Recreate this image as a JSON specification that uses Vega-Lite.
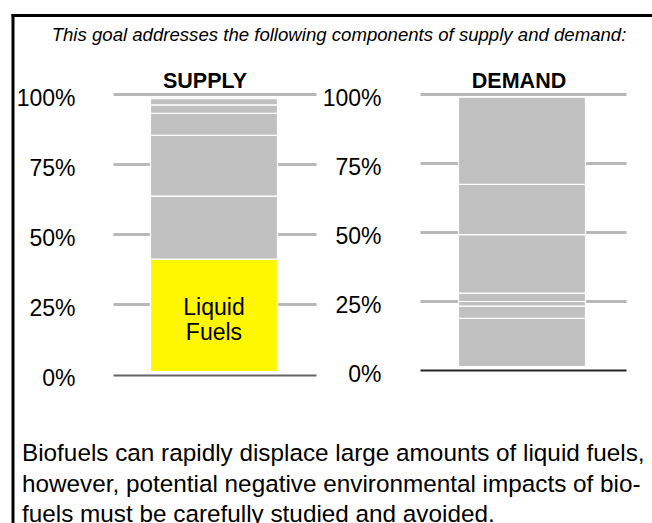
{
  "$schema": "https://vega.github.io/schema/vega-lite/v6.json",
  "autosize": {"type": "none"},
  "width": 639.5,
  "height": 508,
  "padding": {"left": 12.5, "top": 15, "right": 0, "bottom": 0},
  "background": "white",
  "config": {
    "font": "Liberation Sans",
    "view": {"stroke": null}
  },
  "title": {
    "text": [
      "Biofuels can rapidly displace large amounts of liquid fuels,",
      "however, potential negative environmental impacts of bio-",
      "fuels must be carefully studied and avoided."
    ],
    "orient": "bottom",
    "anchor": "start",
    "frame": "group",
    "baseline": "alphabetic",
    "offset": -62,
    "dx": 9.5,
    "fontSize": 24.3,
    "fontWeight": "normal",
    "lineHeight": 30.5,
    "color": "black"
  },
  "data": {
    "values": [
      {"panel": "SUPPLY", "component": "Liquid Fuels", "start": 1.0, "end": 41.1},
      {"panel": "SUPPLY", "component": "Other", "start": 41.1, "end": 63.6},
      {"panel": "SUPPLY", "component": "Other", "start": 63.6, "end": 85.3},
      {"panel": "SUPPLY", "component": "Other", "start": 85.3, "end": 93.1},
      {"panel": "SUPPLY", "component": "Other", "start": 93.1, "end": 96.1},
      {"panel": "SUPPLY", "component": "Other", "start": 96.1, "end": 98.3},
      {"panel": "DEMAND", "component": "Other", "start": 1.3, "end": 18.8},
      {"panel": "DEMAND", "component": "Other", "start": 18.8, "end": 23.2},
      {"panel": "DEMAND", "component": "Other", "start": 23.2, "end": 24.9},
      {"panel": "DEMAND", "component": "Other", "start": 24.9, "end": 27.9},
      {"panel": "DEMAND", "component": "Other", "start": 27.9, "end": 49.1},
      {"panel": "DEMAND", "component": "Other", "start": 49.1, "end": 67.3},
      {"panel": "DEMAND", "component": "Other", "start": 67.3, "end": 98.9}
    ]
  },
  "layer": [
    {
      "transform": [{"filter": "datum.panel === 'SUPPLY'"}],
      "mark": {"type": "bar", "stroke": "white", "strokeWidth": 1.2},
      "encoding": {
        "x": {
          "field": "panel",
          "type": "nominal",
          "scale": {"domain": ["SUPPLY", "DEMAND"], "paddingInner": 0.5877, "paddingOuter": 0.332, "align": 0.6748},
          "axis": {
            "orient": "top",
            "offset": -72,
            "domain": false,
            "ticks": false,
            "labelPadding": 0,
            "labelBaseline": "alphabetic",
            "labelAngle": 0,
            "labelFontSize": 21.5,
            "labelFontWeight": "bold",
            "labelColor": "black",
            "labelOffset": {"condition": {"test": "datum.value === 'SUPPLY'", "value": -9}, "value": -3},
            "title": "This goal addresses the following components of supply and demand:",
            "titleFontSize": 18.6,
            "titleFontStyle": "italic",
            "titleFontWeight": "normal",
            "titlePadding": 25.5,
            "titleColor": "black",
            "titleX": 326,
            "titleAlign": "center"
          }
        },
        "y": {
          "field": "start",
          "type": "quantitative",
          "scale": {"domain": [0, 100], "range": [359.5, 79], "nice": false, "zero": false},
          "axis": {
            "orient": "left",
            "offset": -303.5,
            "values": [0, 25, 50, 75, 100],
            "domain": false,
            "grid": false,
            "ticks": true,
            "tickSize": 203,
            "tickCap": "butt",
            "tickWidth": {"condition": {"test": "datum.value === 0", "value": 2}, "value": 3},
            "tickColor": {"condition": {"test": "datum.value === 0", "value": "#666666"}, "value": "#b8b8b8"},
            "labelPadding": 38,
            "labelOffset": 4,
            "labelFontSize": 23,
            "labelColor": "black",
            "labelAlign": "right",
            "labelBaseline": "middle",
            "labelExpr": "datum.value + '%'",
            "title": null
          }
        },
        "y2": {"field": "end"},
        "color": {
          "field": "component",
          "type": "nominal",
          "scale": {"domain": ["Liquid Fuels", "Other"], "range": ["#fff700", "#c0c0c0"]},
          "legend": null
        }
      }
    },
    {
      "transform": [{"filter": "datum.panel === 'DEMAND'"}],
      "mark": {"type": "bar", "stroke": "white", "strokeWidth": 1.2},
      "encoding": {
        "x": {
          "field": "panel",
          "type": "nominal",
          "scale": {"domain": ["SUPPLY", "DEMAND"], "paddingInner": 0.5877, "paddingOuter": 0.332, "align": 0.6748},
          "axis": {
            "orient": "top",
            "offset": 0,
            "domain": true,
            "domainColor": "black",
            "domainWidth": 3,
            "domainCap": "square",
            "ticks": false,
            "labels": false,
            "title": null
          }
        },
        "y": {
          "field": "start",
          "type": "quantitative",
          "scale": {"domain": [0, 100], "range": [355.3, 79], "nice": false, "zero": false},
          "axis": {
            "orient": "left",
            "offset": -613.5,
            "values": [0, 25, 50, 75, 100],
            "domain": false,
            "grid": false,
            "ticks": true,
            "tickSize": 206,
            "tickCap": "butt",
            "tickWidth": {"condition": {"test": "datum.value === 0", "value": 2}, "value": 3},
            "tickColor": {"condition": {"test": "datum.value === 0", "value": "#222222"}, "value": "#b8b8b8"},
            "labelPadding": 39,
            "labelOffset": 4,
            "labelFontSize": 23,
            "labelColor": "black",
            "labelAlign": "right",
            "labelBaseline": "middle",
            "labelExpr": "datum.value + '%'",
            "title": null
          }
        },
        "y2": {"field": "end"},
        "color": {
          "field": "component",
          "type": "nominal",
          "scale": {"domain": ["Liquid Fuels", "Other"], "range": ["#fff700", "#c0c0c0"]},
          "legend": null
        }
      }
    },
    {
      "transform": [{"filter": "datum.component === 'Liquid Fuels'"}],
      "mark": {"type": "text", "fontSize": 23, "lineHeight": 25.3, "lineBreak": " ", "color": "black", "align": "center", "baseline": "middle"},
      "encoding": {
        "x": {
          "field": "panel",
          "type": "nominal",
          "scale": {"domain": ["SUPPLY", "DEMAND"], "paddingInner": 0.5877, "paddingOuter": 0.332, "align": 0.6748},
          "axis": null
        },
        "y": {
          "datum": 23.8,
          "type": "quantitative",
          "scale": {"domain": [-52.93, 128.17], "nice": false, "zero": false},
          "axis": {
            "orient": "left",
            "offset": 0,
            "domain": true,
            "domainColor": "black",
            "domainWidth": 3,
            "domainCap": "square",
            "ticks": false,
            "labels": false,
            "grid": false,
            "title": null
          }
        },
        "text": {"field": "component"}
      }
    }
  ],
  "resolve": {
    "scale": {"y": "independent"},
    "axis": {"x": "independent", "y": "independent"}
  }
}
